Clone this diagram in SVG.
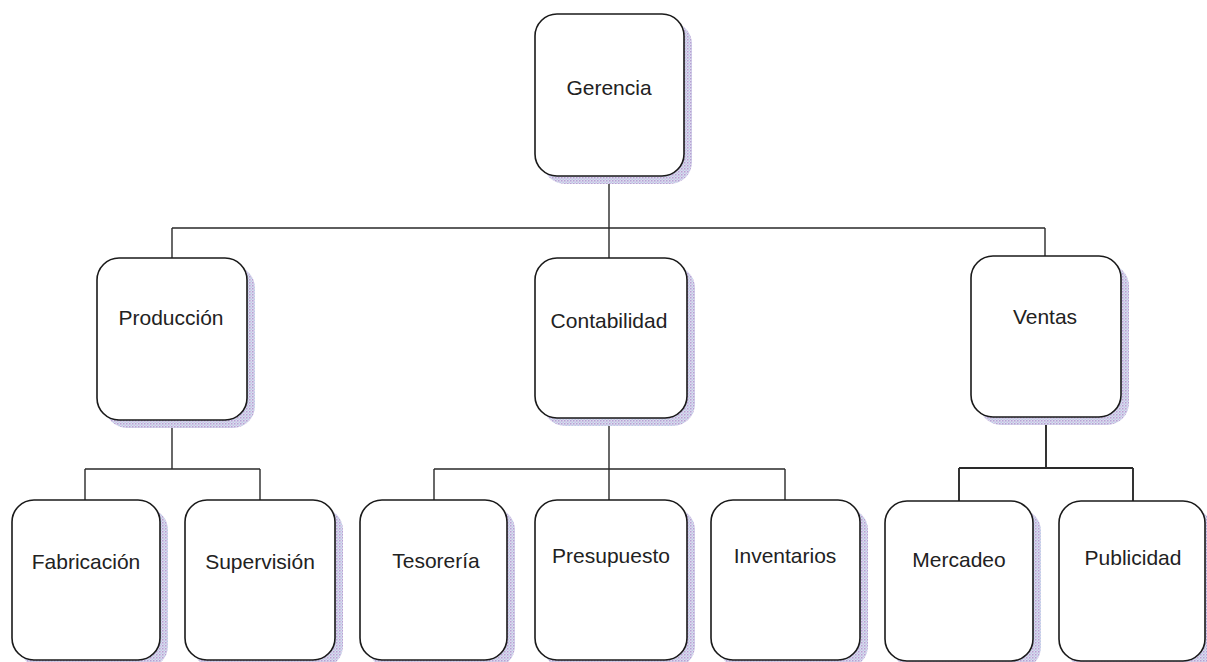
<svg xmlns="http://www.w3.org/2000/svg" width="1207" height="662" viewBox="0 0 1207 662">
  <defs>
    <!-- stippled lavender texture used for the drop shadows -->
    <pattern id="stipple" width="3" height="3" patternUnits="userSpaceOnUse">
      <rect width="3" height="3" fill="#e0d8ee"/>
      <rect width="1.5" height="1.5" fill="#b3a2d3"/>
      <rect x="1.5" y="1.5" width="1.5" height="1.5" fill="#bccde6"/>
    </pattern>
  </defs>
  <style>
    .shadow { fill: url(#stipple); }
    .box { fill: #ffffff; stroke: #1a1a1a; stroke-width: 1.6; }
    .label { font-family: "Liberation Sans", Arial, sans-serif; font-size: 21px; fill: #222222; text-anchor: middle; }
    .link { fill: none; stroke: #2a2a2a; stroke-width: 1.4; }
  </style>

  <rect width="1207" height="662" fill="#ffffff"/>

  <!-- connectors -->
  <g id="connectors" class="link">
    <path d="M609 177 V228 M172 228 H1045 M172 228 V258 M609 228 V258 M1045 228 V256"/>
    <path d="M172 420 V469 M85 469 H260 M85 469 V500 M260 469 V500"/>
    <path d="M609 418 V500 M434 469 H785 M434 469 V500 M785 469 V500"/>
    <path d="M1046 417 V468 M959 468 H1133 M959 468 V501 M1133 468 V501" stroke-width="1.9"/>
  </g>

  <!-- level 0 -->
  <g id="gerencia">
    <rect class="shadow" x="543" y="22" width="149" height="162" rx="22"/>
    <rect class="box" x="535" y="14" width="149" height="162" rx="22"/>
    <text class="label" x="609" y="95">Gerencia</text>
  </g>

  <!-- level 1 -->
  <g id="produccion">
    <rect class="shadow" x="105" y="266" width="150" height="162" rx="22"/>
    <rect class="box" x="97" y="258" width="150" height="162" rx="22"/>
    <text class="label" x="171" y="325">Producción</text>
  </g>
  <g id="contabilidad">
    <rect class="shadow" x="543" y="266" width="152" height="160" rx="22"/>
    <rect class="box" x="535" y="258" width="152" height="160" rx="22"/>
    <text class="label" x="609" y="328">Contabilidad</text>
  </g>
  <g id="ventas">
    <rect class="shadow" x="979" y="264" width="150" height="161" rx="22"/>
    <rect class="box" x="971" y="256" width="150" height="161" rx="22"/>
    <text class="label" x="1045" y="324">Ventas</text>
  </g>

  <!-- level 2 -->
  <g id="fabricacion">
    <rect class="shadow" x="20" y="508" width="148" height="160" rx="22"/>
    <rect class="box" x="12" y="500" width="148" height="160" rx="22"/>
    <text class="label" x="86" y="569">Fabricación</text>
  </g>
  <g id="supervision">
    <rect class="shadow" x="193" y="508" width="150" height="160" rx="22"/>
    <rect class="box" x="185" y="500" width="150" height="160" rx="22"/>
    <text class="label" x="260" y="569">Supervisión</text>
  </g>
  <g id="tesoreria">
    <rect class="shadow" x="368" y="508" width="147" height="160" rx="22"/>
    <rect class="box" x="360" y="500" width="147" height="160" rx="22"/>
    <text class="label" x="436" y="568">Tesorería</text>
  </g>
  <g id="presupuesto">
    <rect class="shadow" x="543" y="508" width="152" height="160" rx="22"/>
    <rect class="box" x="535" y="500" width="152" height="160" rx="22"/>
    <text class="label" x="611" y="563">Presupuesto</text>
  </g>
  <g id="inventarios">
    <rect class="shadow" x="719" y="508" width="149" height="160" rx="22"/>
    <rect class="box" x="711" y="500" width="149" height="160" rx="22"/>
    <text class="label" x="785" y="563">Inventarios</text>
  </g>
  <g id="mercadeo">
    <rect class="shadow" x="893" y="509" width="148" height="160" rx="22"/>
    <rect class="box" x="885" y="501" width="148" height="160" rx="22"/>
    <text class="label" x="959" y="567">Mercadeo</text>
  </g>
  <g id="publicidad">
    <rect class="shadow" x="1067" y="509" width="146" height="160" rx="22"/>
    <rect class="box" x="1059" y="501" width="146" height="160" rx="22"/>
    <text class="label" x="1133" y="565">Publicidad</text>
  </g>
</svg>
